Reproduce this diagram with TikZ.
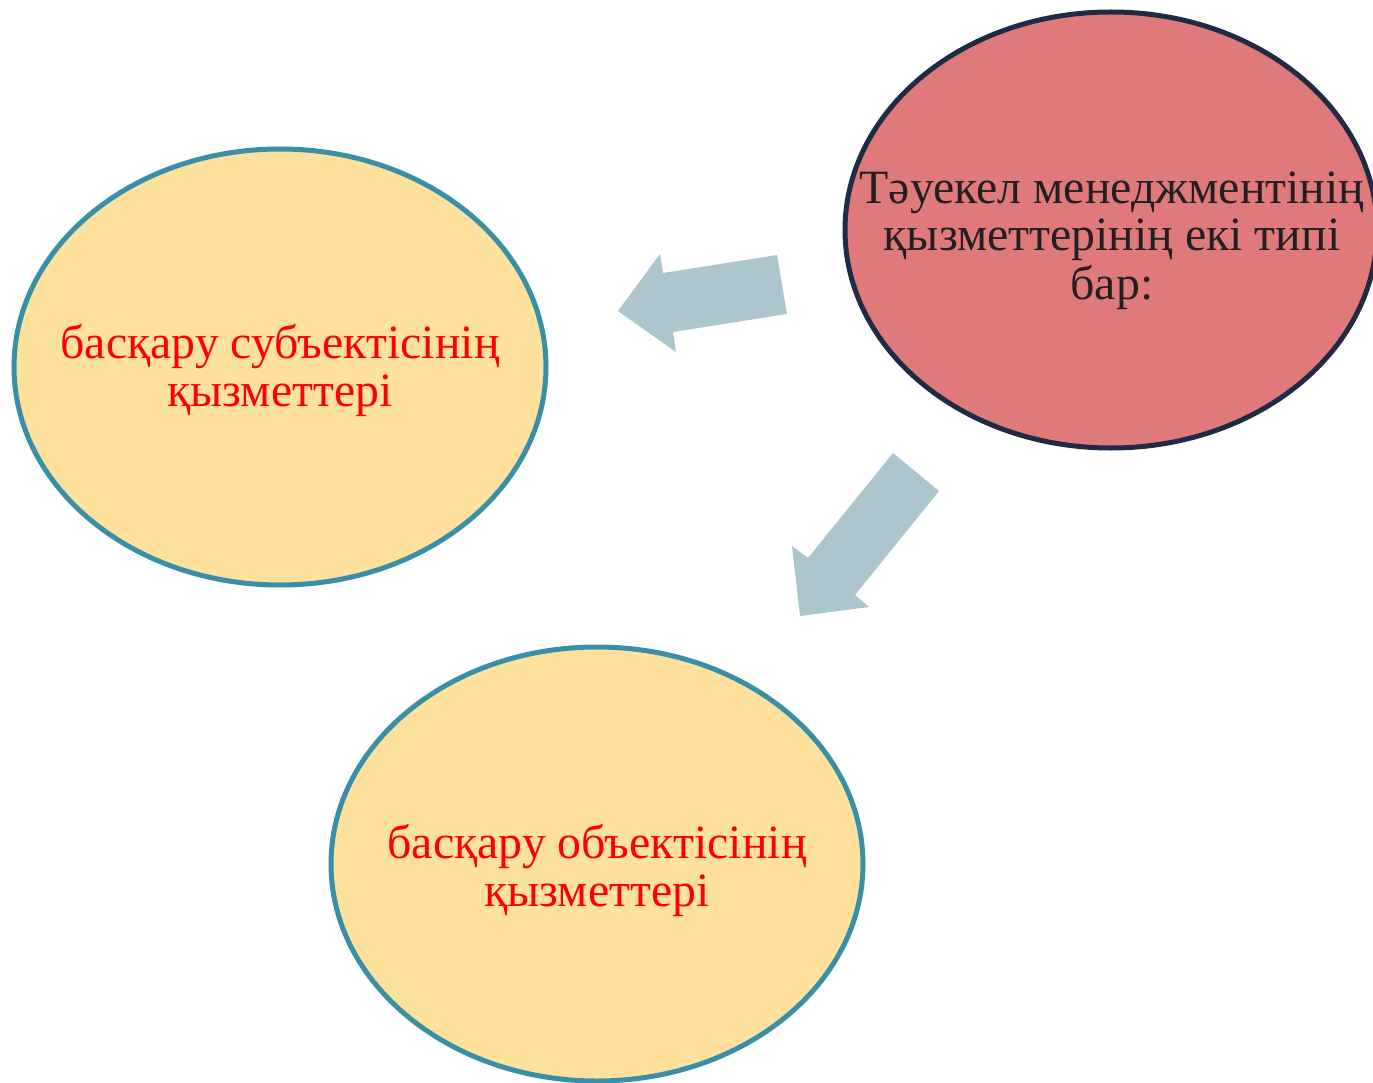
\documentclass[tikz,border=0pt]{standalone}
\usepackage{fontspec}
\setmainfont{Liberation Serif}
\definecolor{yfill}{HTML}{FDE19D}
\definecolor{teal}{HTML}{3A8FA8}
\definecolor{rfill}{HTML}{E07A7A}
\definecolor{navy}{HTML}{1F2A44}
\definecolor{arr}{HTML}{ADC6CD}
\definecolor{dtext}{HTML}{231F20}
\tikzset{
  bigtext/.style={align=center,font=\fontsize{47.8}{48}\selectfont},
  blockarrow/.style={fill=arr,draw=none},
}
\begin{document}
\begin{tikzpicture}[x=1pt,y=-1pt]
\useasboundingbox (0,0) rectangle (1373,1083);
\fill[white] (0,0) rectangle (1373,1083);
% ellipses
\draw[draw=teal,fill=yfill,line width=5pt] (280,367) ellipse [x radius=266,y radius=218];
\coordinate (sub) at (280,367);
\draw[draw=teal,fill=yfill,line width=5pt] (597,864) ellipse [x radius=266,y radius=217];
\coordinate (obj) at (597,864);
\draw[draw=navy,fill=rfill,line width=5pt] (1111,230) ellipse [x radius=266,y radius=218];
\coordinate (top) at (1111,230);
% texts (base anchor = last line baseline)
\node[bigtext,text=dtext,anchor=base] (ttop) at (1112,299) {Тәуекел менеджментінің\\қызметтерінің екі типі\\бар:};
\node[bigtext,text=red,anchor=base] (tsub) at (280,406) {басқару субъектісінің\\қызметтері};
\node[bigtext,text=red,anchor=base] (tobj) at (597,906) {басқару объектісінің\\қызметтері};
% arrows
\fill[blockarrow] (777,255) -- (787,314) -- (673,332) -- (676,352) -- (618,311) -- (660,254) -- (663,273) -- cycle;
\fill[blockarrow] (893,453) -- (939,491) -- (855,595) -- (869,607) -- (800,616) -- (792,546) -- (808,558) -- cycle;
\end{tikzpicture}
\end{document}
